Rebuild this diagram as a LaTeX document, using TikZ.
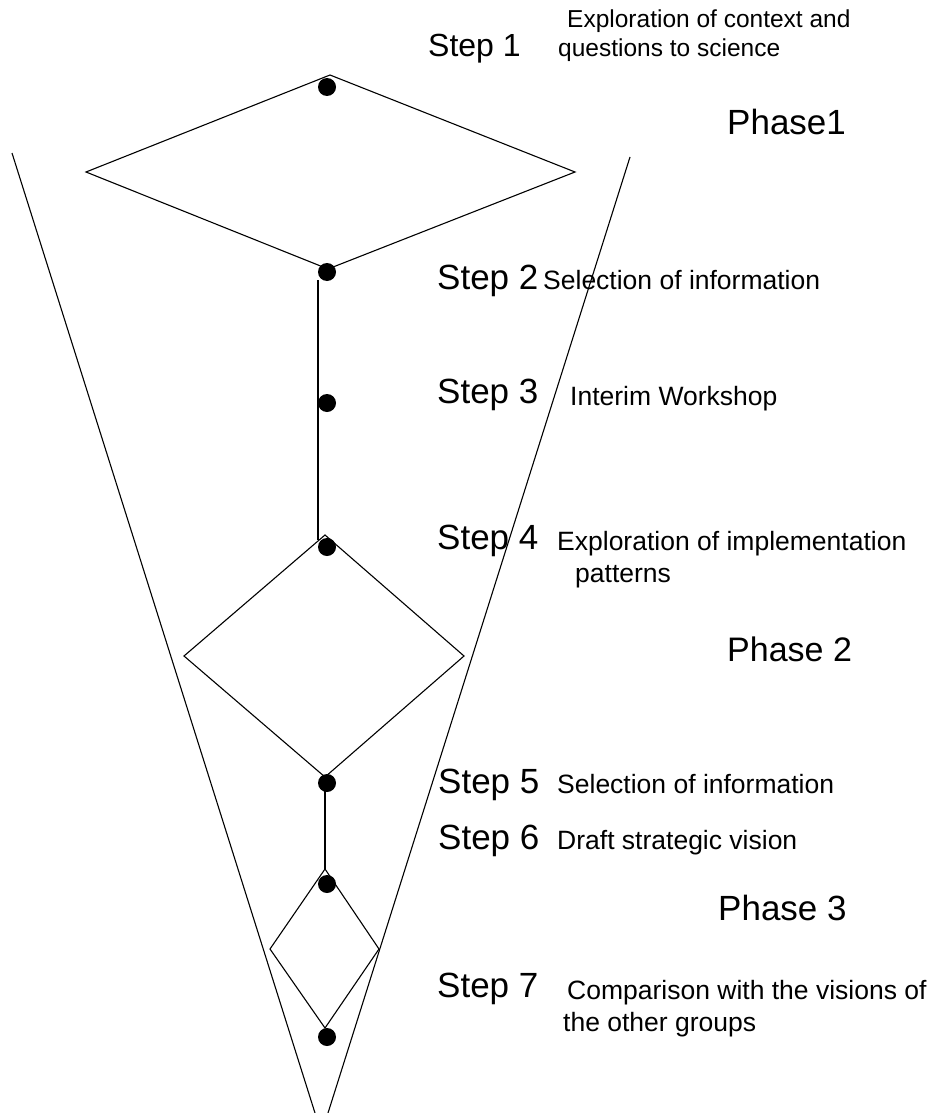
\documentclass[tikz,border=0pt]{standalone}
\usepackage{fontspec}
\setmainfont{Liberation Sans}
\begin{document}
\begin{tikzpicture}[x=1pt,y=-1pt,
  edge/.style={draw=black,line width=1.1pt,line join=miter},
  dot/.style={circle,fill=black,inner sep=0pt,minimum size=18pt},
  steplabel/.style={anchor=base west,inner sep=0pt,font=\fontsize{35}{40}\selectfont},
  phaselabel/.style={anchor=base west,inner sep=0pt,font=\fontsize{35}{40}\selectfont},
  desc/.style={anchor=base west,inner sep=0pt,font=\fontsize{26.5}{30}\selectfont},
  topdesc/.style={desc,font=\fontsize{24.5}{29}\selectfont}]
\useasboundingbox (0,0) rectangle (927,1113);

% funnel
\coordinate (fl) at (12,153);
\coordinate (flb) at (315,1113);
\coordinate (fr) at (630,157);
\coordinate (frb) at (328,1113);
\draw[edge] (fl) -- (flb);
\draw[edge] (fr) -- (frb);

% phase 1 diamond
\coordinate (a1) at (330,75);
\coordinate (a2) at (575,172);
\coordinate (a3) at (328,269);
\coordinate (a4) at (86,172);
\draw[edge] (a1) -- (a2) -- (a3) -- (a4) -- cycle;

% phase 2 diamond
\coordinate (b1) at (325,535);
\coordinate (b2) at (464,656);
\coordinate (b3) at (325,777);
\coordinate (b4) at (184,656);
\draw[edge] (b1) -- (b2) -- (b3) -- (b4) -- cycle;

% phase 3 diamond
\coordinate (c1) at (325,869);
\coordinate (c2) at (379,949);
\coordinate (c3) at (325,1028);
\coordinate (c4) at (270,949);
\draw[edge] (c1) -- (c2) -- (c3) -- (c4) -- cycle;

% connecting stems
\coordinate (s1) at (318,280);
\coordinate (s2) at (318,540);
\draw[edge] (s1) -- (s2);
\coordinate (t1) at (325,785);
\coordinate (t2) at (325,869);
\draw[edge] (t1) -- (t2);

% step markers
\node[dot] (d1) at (327,87) {};
\node[dot] (d2) at (327,272) {};
\node[dot] (d3) at (327,403) {};
\node[dot] (d4) at (327,547) {};
\node[dot] (d5) at (327,783) {};
\node[dot] (d6) at (327,884) {};
\node[dot] (d7) at (327,1037) {};

% labels
\node[steplabel,font=\fontsize{32}{36}\selectfont] (l1) at (428,57) {Step 1};
\node[topdesc] (e1a) at (567,28) {Exploration of context and};
\node[topdesc] (e1b) at (558,57) {questions to science};
\node[phaselabel] (p1) at (727,135) {Phase1};

\node[steplabel] (l2) at (437,289) {Step 2};
\node[desc] (e2) at (543,289) {Selection of information};

\node[steplabel] (l3) at (437,403) {Step 3};
\node[desc] (e3) at (570,405) {Interim Workshop};

\node[steplabel] (l4) at (437,549) {Step 4};
\node[desc] (e4a) at (557,550) {Exploration of implementation};
\node[desc] (e4b) at (575,582) {patterns};
\node[phaselabel,font=\fontsize{34}{40}\selectfont] (p2) at (727,661) {Phase 2};

\node[steplabel] (l5) at (438,793) {Step 5};
\node[desc] (e5) at (557,793) {Selection of information};

\node[steplabel] (l6) at (438,849) {Step 6};
\node[desc] (e6) at (557,849) {Draft strategic vision};
\node[phaselabel] (p3) at (718,920) {Phase 3};

\node[steplabel] (l7) at (437,997) {Step 7};
\node[desc] (e7a) at (567,999) {Comparison with the visions of};
\node[desc] (e7b) at (563,1031) {the other groups};
\end{tikzpicture}
\end{document}
